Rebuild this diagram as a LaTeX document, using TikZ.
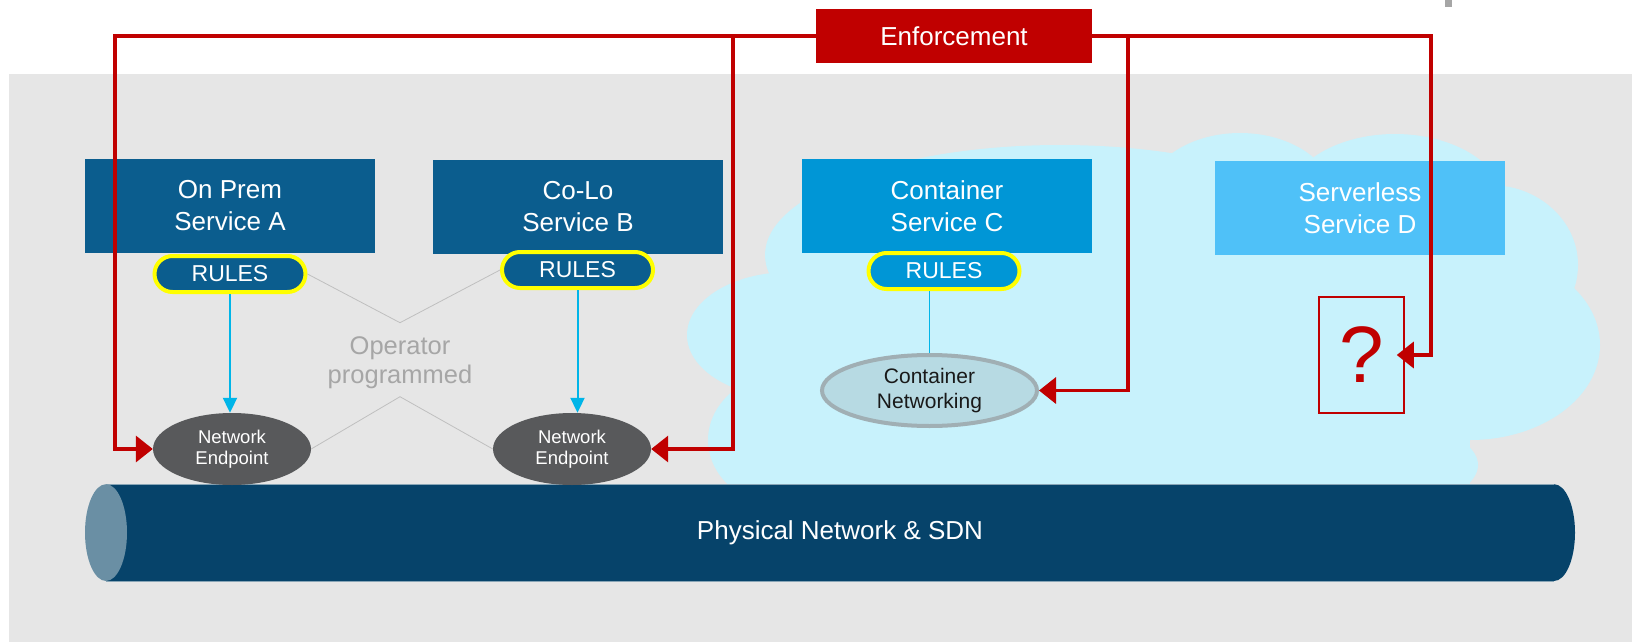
\documentclass[tikz,border=0pt]{standalone}
\usepackage{fontspec}
\setmainfont{Liberation Sans}
\usepackage{tikz}
\usetikzlibrary{shapes.geometric, arrows.meta, positioning, calc}
\definecolor{bggrey}{RGB}{230,230,230}
\definecolor{cloudblue}{RGB}{200,242,252}
\definecolor{darkbox}{RGB}{11,93,142}
\definecolor{midbox}{RGB}{0,150,214}
\definecolor{lightbox}{RGB}{79,193,248}
\definecolor{rulesyellow}{RGB}{255,255,0}
\definecolor{endpointgrey}{RGB}{88,89,91}
\definecolor{cnfill}{RGB}{183,218,227}
\definecolor{cnborder}{RGB}{160,175,180}
\definecolor{enfred}{RGB}{192,0,0}
\definecolor{ruleline}{RGB}{0,181,232}
\definecolor{pipeblue}{RGB}{6,67,106}
\definecolor{pipecap}{RGB}{106,143,164}
\definecolor{opgrey}{RGB}{166,166,166}
\tikzset{
    service/.style={rectangle, minimum width=290pt, minimum height=94pt, inner sep=0pt, align=center, text=white, font=\fontsize{26}{32}\selectfont},
    rules/.style={rectangle, rounded corners=18pt, minimum width=151pt, minimum height=36pt, inner sep=0pt, draw=rulesyellow, line width=4pt, text=white, font=\fontsize{23}{26}\selectfont},
    endpoint/.style={ellipse, minimum width=158pt, minimum height=72pt, inner sep=0pt, align=center, fill=endpointgrey, text=white, font=\fontsize{18.5}{21}\selectfont},
    cnet/.style={ellipse, minimum width=215pt, minimum height=71pt, inner sep=0pt, align=center, fill=cnfill, draw=cnborder, line width=4pt, text=black!90, font=\fontsize{21}{25}\selectfont},
    unknown/.style={rectangle, minimum width=85pt, minimum height=116pt, inner sep=0pt, draw=enfred, line width=1.5pt, text=enfred, font=\fontsize{80}{80}\selectfont},
    enforce/.style={rectangle, minimum width=276pt, minimum height=54pt, inner sep=0pt, fill=enfred, text=white, font=\fontsize{26}{30}\selectfont},
    opnote/.style={align=center, text=opgrey, inner sep=0pt, font=\fontsize{25.5}{29}\selectfont},
    pipelabel/.style={text=white, inner sep=0pt, font=\fontsize{26}{30}\selectfont},
    oplink/.style={draw=black!25, line width=0.8pt},
    rulearrow/.style={draw=ruleline, line width=2pt, -{Triangle[length=15pt, width=14pt]}},
    rulelink/.style={draw=ruleline, line width=1.5pt},
    enfarrow/.style={draw=enfred, line width=3.5pt, -{Triangle[length=17pt, width=26pt]}}
}
\begin{document}
\begin{tikzpicture}[x=1pt, y=-1pt]
        \useasboundingbox (0,0) rectangle (1632,642);
        % Background panel
        \fill[bggrey] (9,74) rectangle (1632,642);
        \fill[gray!70] (1445,0) rectangle (1452,7);

        % Cloud behind services C and D
        \fill[cloudblue] (1060,255) ellipse [x radius=295, y radius=110];
        \fill[cloudblue] (1240,200) ellipse [x radius=95, y radius=67];
        \fill[cloudblue] (1395,205) ellipse [x radius=110, y radius=71];
        \fill[cloudblue] (1490,265) ellipse [x radius=88, y radius=80];
        \fill[cloudblue] (1470,345) ellipse [x radius=130, y radius=95];
        \fill[cloudblue] (1320,465) ellipse [x radius=158, y radius=55];
        \fill[cloudblue] (790,335) ellipse [x radius=103, y radius=63];
        \fill[cloudblue] (795,440) ellipse [x radius=87, y radius=70];
        \fill[cloudblue] (800,200) rectangle (1470,484);

        % Physical network pipe
        \fill[pipeblue] (1554,532.6) ellipse [x radius=21, y radius=48.4];
        \fill[pipeblue] (106,484.2) rectangle (1554,581);
        \draw[pipecap!80, line width=1pt] (106,484.2) -- (1554,484.2) (106,581) -- (1554,581);
        \fill[pipecap] (106,532.6) ellipse [x radius=21, y radius=48.4];
        \node[pipelabel] (pipe) at (840,533) {Physical Network \& SDN};

        % Service boxes
        \node[service, fill=darkbox] (svcA) at (230,206) {On Prem\\Service A};
        \node[service, fill=darkbox] (svcB) at (578,207) {Co-Lo\\Service B};
        \node[service, fill=midbox] (svcC) at (947,206) {Container\\Service C};
        \node[service, fill=lightbox] (svcD) at (1360,208) {Serverless\\Service D};

        % Rules attached to the services
        \node[rules, fill=darkbox] (rulesA) at (230,274) {RULES};
        \node[rules, fill=darkbox] (rulesB) at (577.5,270) {RULES};
        \node[rules, fill=midbox] (rulesC) at (944,271) {RULES};

        % Endpoints
        \node[endpoint] (epA) at (232,449) {Network\\Endpoint};
        \node[endpoint] (epB) at (572,449) {Network\\Endpoint};
        \node[cnet] (cnet) at (929.5,390.5) {Container\\Networking};
        \node[unknown] (qbox) at (1361.5,355) {?};

        % Operator note with its thin links
        \node[opnote] (opnote) at (400,363) {Operator\\programmed};
        \coordinate (opTop) at (400,322.7);
        \coordinate (opBot) at (400,396.7);
        \draw[oplink] (rulesA.east) -- (opTop) -- (rulesB.west);
        \draw[oplink] (epA.east) -- (opBot) -- (epB.west);

        % Rules pushed down to the endpoints
        \draw[rulearrow] (rulesA.south) -- (rulesA.south |- epA.north);
        \draw[rulearrow] (rulesB.south) -- (rulesB.south |- epB.north);
        \draw[rulelink] (cnet.north |- rulesC.south) -- (cnet.north);

        % Enforcement feeds
        \node[enforce] (enf) at (954,36) {Enforcement};
        \coordinate (enfA) at (115,36);
        \coordinate (enfB) at (733,36);
        \coordinate (enfC) at (1128,36);
        \coordinate (enfD) at (1431,36);
        \draw[enfarrow] (enf.west) -- (enfA) |- (epA.west);
        \draw[enfarrow] (enf.west) -- (enfB) |- (epB.east);
        \draw[enfarrow] (enf.east) -- (enfC) |- (cnet.east);
        \draw[enfarrow, shorten >=-8pt] (enf.east) -- (enfD) |- (qbox.east);
    \end{tikzpicture}
\end{document}
